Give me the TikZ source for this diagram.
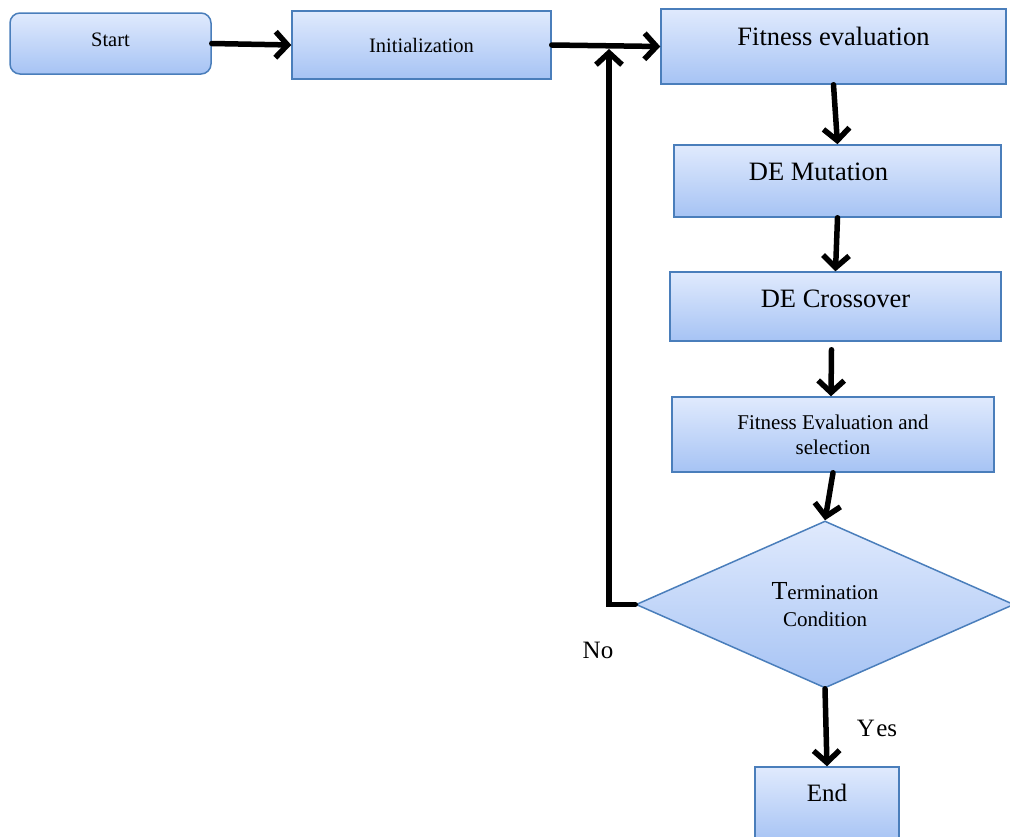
\documentclass[tikz,border=0pt]{standalone}
\usepackage{fontspec}
\setmainfont{Liberation Serif}
\usetikzlibrary{arrows.meta,shapes.geometric}
\definecolor{boxtop}{HTML}{E0EAFD}
\definecolor{boxbot}{HTML}{A6C3F4}
\definecolor{boxline}{HTML}{4A7EBB}
\tikzset{
  box/.style={draw=boxline, line width=1.5pt, top color=boxtop, bottom color=boxbot,
    inner sep=0pt, align=center},
  smalltext/.style={font=\fontsize{20.5}{24}\selectfont},
  bigtext/.style={font=\fontsize{26.5}{30}\selectfont},
  flow/.style={line width=5.5pt, line cap=round, line join=round,
    -{Straight Barb[length=12pt,width=26pt,line width=5.5pt]}},
  lbl/.style={inner sep=0pt, font=\fontsize{25}{28}\selectfont}
}
\begin{document}
\begin{tikzpicture}[x=1pt,y=-1pt]
\useasboundingbox (0,0) rectangle (1010,836);
\node[box, smalltext, rounded corners=10pt, minimum width=201, minimum height=61,
  text height=14, text depth=8] (start) at (110.5,43.5) {Start};
\node[box, smalltext, minimum width=259, minimum height=68] (init) at (421.5,45) {Initialization};
\node[box, bigtext, minimum width=345, minimum height=75, text height=18, text depth=21]
  (fit) at (833.5,46.5) {Fitness evaluation};
\node[box, bigtext, minimum width=327, minimum height=72, text height=18, text depth=20]
  (mut) at (837.5,181) {DE Mutation\hspace*{38pt}};
\node[box, bigtext, minimum width=331, minimum height=69, text height=18, text depth=17]
  (cross) at (835.5,306.5) {DE Crossover};
\node[box, font=\fontsize{21}{25}\selectfont, minimum width=322, minimum height=75]
  (fes) at (833,434.5) {Fitness Evaluation and\\selection};
\node[box, diamond, font=\fontsize{21}{27}\selectfont, minimum width=378, minimum height=167, aspect=2.26]
  (dia) at (825,604.5) {{\fontsize{26}{27}\selectfont T}ermination\\Condition};
\node[box, lbl, minimum width=144, minimum height=75, text height=17, text depth=23]
  (end) at (827,804.5) {End};
\node[lbl] (no) at (598,650) {No};
\node[lbl] (yes) at (877,728) {Y\kern1.5pt es};
\coordinate (join) at (609,49);
\draw[flow] (start.east) -- (init.west);
\draw[flow] (init.east) -- (fit.west);
\draw[flow] (fit.south) -- (mut.north);
\draw[flow] (mut.south) -- (cross.north);
\draw[flow] ([xshift=-4pt,yshift=-8pt]cross.south) -- ([xshift=-2pt]fes.north);
\draw[flow] (fes.south) -- (dia.north);
\draw[flow] (dia.south) -- (end.north);
\draw[flow, line join=miter] (dia.west) -| (join);
\end{tikzpicture}
\end{document}
